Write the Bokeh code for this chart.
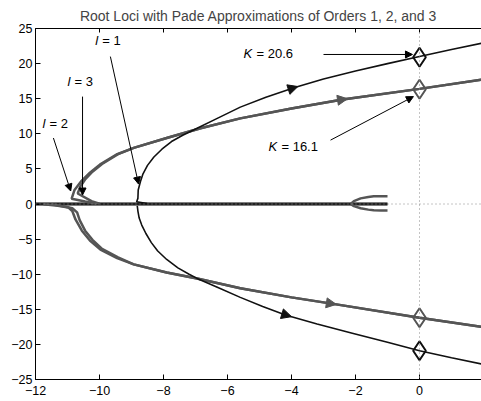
import numpy as np
from bokeh.plotting import figure
from bokeh.models import Range1d, LinearAxis, FixedTicker, Label, Arrow, NormalHead, Span
from bokeh.embed import file_html
from bokeh.resources import INLINE

# ---------------- data ----------------
title_text = "Root Loci with Pade Approximations of Orders 1, 2, and 3"

x_ticks = [-12, -10, -8, -6, -4, -2, 0]
x_tick_labels = ["\u221212", "\u221210", "\u22128", "\u22126", "\u22124", "\u22122", "0"]
y_ticks = [-25, -20, -15, -10, -5, 0, 5, 10, 15, 20, 25]
y_tick_labels = ["\u221225", "\u221220", "\u221215", "\u221210", "\u22125", "0", "5", "10", "15", "20", "25"]

# order 1 (black)
l1_up_x = [-8.51, -8.84, -8.80, -8.79, -8.72, -8.64, -8.50, -8.30, -8.05, -7.75, -7.40, -6.95, -6.32, -5.60, -4.80, -3.90, -3.00, -2.00, -1.00, 0.00, 1.00, 1.94]
l1_up_y = [0.05, 0.33, 0.8, 2.0, 3.2, 4.3, 5.5, 6.7, 7.8, 8.9, 9.8, 10.8, 12.2, 13.8, 15.2, 16.6, 17.8, 18.95, 20.0, 21.0, 22.0, 22.9]
l1_lo_x = [-8.82, -8.80, -8.76, -8.68, -8.55, -8.38, -8.18, -7.90, -7.55, -7.20, -6.95, -6.30, -5.60, -4.90, -4.19, -3.20, -2.10, -1.00, 0.00, 1.00, 1.94]
l1_lo_y = [-0.28, -1.0, -2.0, -3.0, -4.2, -5.5, -6.7, -7.9, -9.1, -10.0, -10.6, -11.9, -13.3, -14.6, -15.8, -17.1, -18.4, -19.7, -20.9, -21.9, -22.8]

# order 2 (grey)
l2_up_x = [-10.10, -10.45, -10.87, -10.78, -10.56, -10.30, -9.99, -9.47, -8.93, -7.90, -6.84, -5.60, -4.00, -2.40, 0.00, 1.94]
l2_up_y = [0.05, 0.35, 0.75, 2.0, 3.3, 4.45, 5.6, 7.05, 8.0, 9.4, 10.8, 12.2, 13.6, 14.9, 16.4, 17.7]
l2_lo_x = [-11.75, -11.30, -10.97, -10.85, -10.75, -10.55, -10.30, -9.97, -9.45, -8.93, -7.90, -6.95, -5.60, -4.00, -2.60, 0.00, 1.94]
l2_lo_y = [-0.05, -0.25, -0.5, -1.0, -2.2, -3.8, -5.2, -6.5, -7.7, -8.6, -9.75, -10.6, -12.0, -13.3, -14.3, -16.2, -17.5]

# order 3 (grey)
l3_up_x = [-10.00, -10.25, -10.68, -10.60, -10.45, -10.22, -9.92, -9.42, -8.93, -7.90, -6.84, -5.60, -4.00, -2.40, 0.00, 1.94]
l3_up_y = [0.05, 0.4, 1.5, 2.5, 3.5, 4.6, 5.7, 7.1, 8.0, 9.4, 10.8, 12.2, 13.6, 14.9, 16.4, 17.7]
l3_lo_x = [-11.50, -11.10, -10.85, -10.70, -10.62, -10.45, -10.22, -9.92, -9.42, -8.93, -7.90, -6.95, -5.60, -4.00, -2.60, 0.00, 1.94]
l3_lo_y = [-0.05, -0.35, -0.6, -1.2, -2.3, -3.8, -5.1, -6.4, -7.6, -8.6, -9.75, -10.6, -12.0, -13.3, -14.3, -16.2, -17.5]

# real-axis segments and the small fork near -2
real_x = [-12.0, -1.0]
real_y = [0.0, 0.0]
fork_up_x = [-2.15, -2.05, -1.84, -1.60, -1.43, -1.20, -1.00]
fork_up_y = [0.0, 0.4, 0.8, 1.0, 1.1, 1.12, 1.12]
fork_lo_x = [-2.15, -2.05, -1.84, -1.60, -1.43, -1.20, -1.00]
fork_lo_y = [0.0, -0.3, -0.6, -0.8, -0.9, -0.93, -0.93]

# imaginary-axis crossings (K = 20.6 for order 1, K = 16.1 for orders 2,3)
k1_x = [0.0, 0.0]
k1_y = [20.9, -20.9]
k23_x = [0.0, 0.0]
k23_y = [16.35, -16.2]

# direction-arrow positions along the loci
dir_black_up_x = -3.8
dir_black_lo_x = -4.0
dir_grey_up_x = -2.25
dir_grey_lo_x = -2.6

BLACK = "#111111"
GREY = "#555555"
FONT = "Liberation Sans"

p = figure(width=481, height=401, output_backend="svg", toolbar_location=None,
           x_range=Range1d(-12, 1.9375), y_range=Range1d(-25, 25),
           title=title_text, min_border_left=35, min_border_right=0,
           min_border_top=27, min_border_bottom=22)
p.outline_line_color = None
p.grid.visible = False
p.background_fill_color = "white"
p.border_fill_color = "white"

p.title.text_font = FONT
p.title.text_font_size = "14px"
p.title.text_font_style = "normal"
p.title.align = "center"
p.title.standoff = 10
p.title.offset = 0

for ax, ticks, labels, so in ((p.xaxis[0], x_ticks, x_tick_labels, 6), (p.yaxis[0], y_ticks, y_tick_labels, 3)):
    ax.ticker = FixedTicker(ticks=ticks)
    ax.major_label_overrides = {t: s for t, s in zip(ticks, labels)}
    ax.major_tick_in = 5
    ax.major_tick_out = 0
    ax.minor_tick_line_color = None
    ax.axis_line_color = "black"
    ax.major_tick_line_color = "black"
    ax.major_label_text_font = FONT
    ax.major_label_text_font_size = "12.5px"
    ax.major_label_text_color = "black"
    ax.major_label_standoff = so

top = LinearAxis(ticker=FixedTicker(ticks=x_ticks), major_label_text_font_size="1px",
                 major_label_overrides={t: "" for t in x_ticks},
                 major_tick_in=4, major_tick_out=0, minor_tick_line_color=None,
                 major_label_standoff=0, axis_line_color="black")
p.add_layout(top, "above")

# real axis
p.line(real_x, real_y, line_color=GREY, line_width=3.5)
p.line(real_x, real_y, line_color=BLACK, line_width=1.5)
p.line(fork_up_x, fork_up_y, line_color=GREY, line_width=2.5)
p.line(fork_lo_x, fork_lo_y, line_color=GREY, line_width=2.5)

# loci
for xs, ys in ((l2_up_x, l2_up_y), (l2_lo_x, l2_lo_y), (l3_up_x, l3_up_y), (l3_lo_x, l3_lo_y)):
    p.line(xs, ys, line_color=GREY, line_width=2.5)
for xs, ys in ((l1_up_x, l1_up_y), (l1_lo_x, l1_lo_y)):
    p.line(xs, ys, line_color=BLACK, line_width=1.6)

# direction arrows on loci
def dir_arrow(xs, ys, xt, color):
    xs_a = np.array(xs[-8:])
    ys_a = np.array(ys[-8:])
    yt = float(np.interp(xt, xs_a, ys_a))
    xb = xt - 0.25
    yb = float(np.interp(xb, xs_a, ys_a))
    p.add_layout(Arrow(x_start=xb, y_start=yb, x_end=xt, y_end=yt, line_alpha=0,
                       end=NormalHead(size=10, fill_color=color, line_color=color, line_width=1)))

dir_arrow(l1_up_x, l1_up_y, dir_black_up_x, BLACK)
dir_arrow(l1_lo_x, l1_lo_y, dir_black_lo_x, BLACK)
dir_arrow(l2_up_x, l2_up_y, dir_grey_up_x, GREY)
dir_arrow(l2_lo_x, l2_lo_y, dir_grey_lo_x, GREY)

# dotted axes lines
p.add_layout(Span(location=0, dimension="height", line_color="#888888", line_dash="1 3", line_width=1))
p.add_layout(Span(location=0, dimension="width", line_color="#888888", line_dash="1 3", line_width=1))

# diamonds
p.scatter(k23_x, k23_y, marker="diamond", size=19, fill_color=None, line_color=GREY, line_width=2)
p.scatter(k1_x, k1_y, marker="diamond", size=19, fill_color=None, line_color=BLACK, line_width=2)

# annotations
def label(x, y, sym, rest, sym_w):
    p.add_layout(Label(x=x, y=y, text=sym, text_font=FONT, text_font_size="13px",
                       text_font_style="italic", text_baseline="middle", text_color="black"))
    p.add_layout(Label(x=x, y=y, x_offset=sym_w, text=rest, text_font=FONT, text_font_size="13px",
                       text_baseline="middle", text_color="black"))

label(-10.13, 23.3, "l", "= 1", 7)
label(-11.0, 17.5, "l", "= 3", 7)
label(-11.78, 11.4, "l", "= 2", 7)
label(-5.5, 21.4, "K", "= 20.6", 13)
label(-4.72, 8.2, "K", "= 16.1", 13)

def pointer(x0, y0, x1, y1):
    p.add_layout(Arrow(x_start=x0, y_start=y0, x_end=x1, y_end=y1, line_color="black", line_width=1,
                       end=NormalHead(size=7, fill_color="black", line_color="black", line_width=1)))

pointer(-9.66, 21.0, -8.78, 2.84)
pointer(-10.53, 15.3, -10.53, 1.28)
pointer(-11.44, 9.4, -10.9, 1.85)
pointer(-3.0, 21.3, -0.22, 21.3)
pointer(-2.78, 9.1, -0.19, 15.3)

open("out.html", "w").write(file_html(p, INLINE))
